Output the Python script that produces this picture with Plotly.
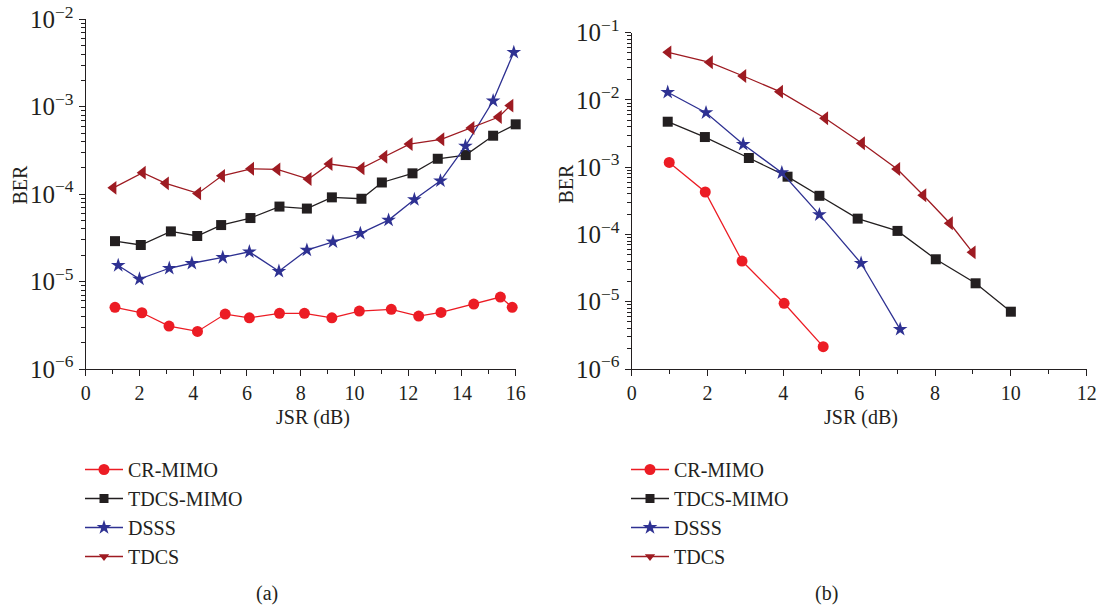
import plotly.graph_objects as go

# ---------------- data: panel (a) ----------------
a_cr_x = [1.09, 2.09, 3.10, 4.16, 5.19, 6.09, 7.21, 8.14, 9.16, 10.18, 11.37, 12.39, 13.22, 14.44, 15.43, 15.87]
a_cr_y = [5.07e-6, 4.40e-6, 3.10e-6, 2.69e-6, 4.25e-6, 3.85e-6, 4.33e-6, 4.33e-6, 3.85e-6, 4.60e-6, 4.81e-6, 4.03e-6, 4.44e-6, 5.53e-6, 6.65e-6, 5.07e-6]

a_tm_x = [1.09, 2.05, 3.17, 4.15, 5.04, 6.13, 7.21, 8.23, 9.16, 10.26, 11.02, 12.16, 13.10, 14.14, 15.16, 16.0]
a_tm_y = [2.90e-5, 2.62e-5, 3.75e-5, 3.32e-5, 4.43e-5, 5.33e-5, 7.21e-5, 6.84e-5, 9.19e-5, 8.86e-5, 1.36e-4, 1.73e-4, 2.54e-4, 2.80e-4, 4.66e-4, 6.29e-4]

a_ds_x = [1.21, 2.00, 3.11, 3.95, 5.10, 6.09, 7.19, 8.23, 9.20, 10.22, 11.27, 12.23, 13.20, 14.13, 15.16, 15.93]
a_ds_y = [1.53e-5, 1.07e-5, 1.42e-5, 1.62e-5, 1.89e-5, 2.19e-5, 1.31e-5, 2.29e-5, 2.85e-5, 3.56e-5, 5.05e-5, 8.68e-5, 1.42e-4, 3.55e-4, 1.17e-3, 4.19e-3]

a_td_x = [1.03, 2.12, 2.98, 4.18, 5.07, 6.15, 7.13, 8.29, 9.07, 10.26, 11.11, 12.05, 13.23, 14.35, 15.37, 15.80]
a_td_y = [1.18e-4, 1.76e-4, 1.33e-4, 1.02e-4, 1.62e-4, 1.95e-4, 1.92e-4, 1.49e-4, 2.21e-4, 1.97e-4, 2.68e-4, 3.74e-4, 4.24e-4, 5.71e-4, 7.62e-4, 1.03e-3]

# ---------------- data: panel (b) ----------------
b_cr_x = [0.99, 1.94, 2.91, 4.02, 5.05]
b_cr_y = [1.18e-3, 4.28e-4, 4.03e-5, 9.48e-6, 2.15e-6]

b_tm_x = [0.95, 1.93, 3.09, 4.11, 4.95, 5.96, 7.01, 8.02, 9.07, 10.00]
b_tm_y = [4.75e-3, 2.81e-3, 1.37e-3, 7.23e-4, 3.76e-4, 1.72e-4, 1.13e-4, 4.28e-5, 1.88e-5, 7.11e-6]

b_ds_x = [0.95, 1.96, 2.94, 3.96, 4.95, 6.05, 7.08]
b_ds_y = [1.30e-2, 6.47e-3, 2.19e-3, 8.29e-4, 1.97e-4, 3.73e-5, 3.89e-6]

b_td_x = [0.965, 2.06, 2.94, 3.91, 5.10, 6.07, 7.00, 7.69, 8.39, 8.99]
b_td_y = [5.11e-2, 3.63e-2, 2.27e-2, 1.33e-2, 5.34e-3, 2.27e-3, 9.41e-4, 3.83e-4, 1.47e-4, 5.43e-5]

series_names = ["CR-MIMO", "TDCS-MIMO", "DSSS", "TDCS"]
colors = ["#ec1c24", "#231f20", "#2e3192", "#9e1b22"]
plot_symbols = ["circle", "square", "star", "triangle-left"]
legend_symbols = ["circle", "square", "star", "triangle-down"]
plot_sizes = [11, 10, 11, 12]
legend_sizes = [11, 9, 11, 9]

FONT = "Liberation Serif"
W, H = 1101, 608

fig = go.Figure()

panel_a = [(a_cr_x, a_cr_y), (a_tm_x, a_tm_y), (a_ds_x, a_ds_y), (a_td_x, a_td_y)]
panel_b = [(b_cr_x, b_cr_y), (b_tm_x, b_tm_y), (b_ds_x, b_ds_y), (b_td_x, b_td_y)]

for panel, xa, ya, leg in [(panel_a, "x", "y", "legend"), (panel_b, "x2", "y2", "legend2")]:
    for i, (xs, ys) in enumerate(panel):
        fig.add_trace(go.Scatter(
            x=xs, y=ys, xaxis=xa, yaxis=ya, mode="lines+markers",
            line=dict(color=colors[i], width=1.3),
            marker=dict(symbol=plot_symbols[i], size=plot_sizes[i], color=colors[i],
                        line=dict(width=0)),
            showlegend=False, cliponaxis=False,
        ))
    for i in range(4):
        fig.add_trace(go.Scatter(
            x=[None], y=[None], xaxis=xa, yaxis=ya, mode="lines+markers",
            name=series_names[i], legend=leg, legendgroup=f"{leg}{i}",
            line=dict(color=colors[i], width=1.3),
            marker=dict(symbol=legend_symbols[i], size=legend_sizes[i], color=colors[i],
                        line=dict(width=0)),
        ))

def px_x(p):
    return p / W

def px_y(p):
    return 1 - p / H

axis_common = dict(
    showline=True, linecolor="#231f20", linewidth=1.3, mirror=False, automargin=False,
    showgrid=False, zeroline=False, ticks="outside", ticklen=6, tickwidth=1.2,
    tickcolor="#231f20", tickfont=dict(family=FONT, size=20, color="#231f20"),
)

fig.update_layout(
    template="none",
    width=W, height=H,
    margin=dict(l=0, r=0, t=0, b=0, autoexpand=False),
    paper_bgcolor="white", plot_bgcolor="white",
    font=dict(family=FONT, size=20, color="#231f20"),
    xaxis=dict(domain=[px_x(85.7), px_x(515.7)], range=[0, 16], dtick=2, anchor="y",
               minor=dict(dtick=1, ticks="outside", ticklen=4, tickcolor="#231f20", showgrid=False),
               ticklabelstandoff=0, **axis_common),
    yaxis=dict(domain=[px_y(369), px_y(19.3)], type="log", range=[-6, -2], dtick=1,
               exponentformat="power", anchor="x",
               minor=dict(dtick="D1", ticks="outside", ticklen=3.5, tickcolor="#231f20", showgrid=False),
               ticklabelstandoff=1, **axis_common),
    xaxis2=dict(domain=[px_x(631.7), px_x(1086.7)], range=[0, 12], dtick=2, anchor="y2",
                minor=dict(dtick=1, ticks="outside", ticklen=4, tickcolor="#231f20", showgrid=False),
                ticklabelstandoff=0, **axis_common),
    yaxis2=dict(domain=[px_y(369), px_y(32.7)], type="log", range=[-6, -1], dtick=1,
                exponentformat="power", anchor="x2",
                minor=dict(dtick="D1", ticks="outside", ticklen=3.5, tickcolor="#231f20", showgrid=False),
                ticklabelstandoff=1, **axis_common),
    legend=dict(x=px_x(80), y=px_y(450), xanchor="left", yanchor="top",
                font=dict(family=FONT, size=20, color="#231f20"),
                bgcolor="rgba(0,0,0,0)", tracegroupgap=0, itemwidth=38),
    legend2=dict(x=px_x(626), y=px_y(450), xanchor="left", yanchor="top",
                 font=dict(family=FONT, size=20, color="#231f20"),
                 bgcolor="rgba(0,0,0,0)", tracegroupgap=0, itemwidth=38),
    showlegend=True,
)

ann = [
    dict(text="JSR (dB)", x=px_x(313), y=px_y(417)),
    dict(text="JSR (dB)", x=px_x(861), y=px_y(417)),
    dict(text="BER", x=px_x(19.5), y=px_y(185), textangle=-90),
    dict(text="BER", x=px_x(565.5), y=px_y(184), textangle=-90),
    dict(text="(a)", x=px_x(267), y=px_y(593)),
    dict(text="(b)", x=px_x(826), y=px_y(593)),
]
for a in ann:
    fig.add_annotation(xref="paper", yref="paper", showarrow=False,
                       xanchor="center", yanchor="middle",
                       font=dict(family=FONT, size=20, color="#231f20"), **a)

fig.write_html("out.html")
